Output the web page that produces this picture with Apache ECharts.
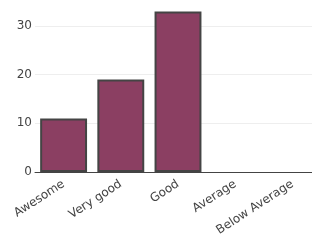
<!DOCTYPE html>
<html>
<head>
<meta charset="utf-8">
<script src="https://cdn.jsdelivr.net/npm/echarts@6/dist/echarts.min.js"></script>
<style>
  html, body { margin: 0; padding: 0; background: #fff; overflow: hidden; }
  /* the original plot runs a little past the right edge of the picture */
  #chart { width: 321px; height: 242px; }
</style>
</head>
<body>
<div id="chart"></div>
<script>
var categories = ['Awesome', 'Very good', 'Good', 'Average', 'Below Average'];
var counts = [11, 19, 33, 0, 0];
var yTicks = [0, 10, 20, 30];

var chart = echarts.init(document.getElementById('chart'));
var textStyle = {color: '#444', fontSize: 12, fontFamily: '"DejaVu Sans", Verdana, sans-serif'};

chart.setOption({
  animation: false,
  grid: {left: 35, right: 0, top: 26, bottom: 70},
  xAxis: {
    type: 'category',
    data: categories,
    axisLine: {lineStyle: {color: '#444', width: 1}},
    axisTick: {show: false},
    axisLabel: Object.assign({rotate: 33, margin: 11, interval: 0}, textStyle)
  },
  yAxis: {
    type: 'value',
    min: yTicks[0],
    max: yTicks[yTicks.length - 1],
    interval: 10,
    axisLine: {show: false},
    axisTick: {show: false},
    axisLabel: Object.assign({margin: 3}, textStyle),
    splitLine: {lineStyle: {color: '#eee', width: 1}}
  },
  series: [{
    type: 'bar',
    // zero-height bars draw nothing, as in the original
    data: counts.map(function(v) {
      return v ? v : {value: v, itemStyle: {borderWidth: 0}};
    }),
    clip: false,
    barCategoryGap: '18%',
    itemStyle: {color: '#8b3f62', borderColor: '#444', borderWidth: 2}
  }]
});
</script>
</body>
</html>
